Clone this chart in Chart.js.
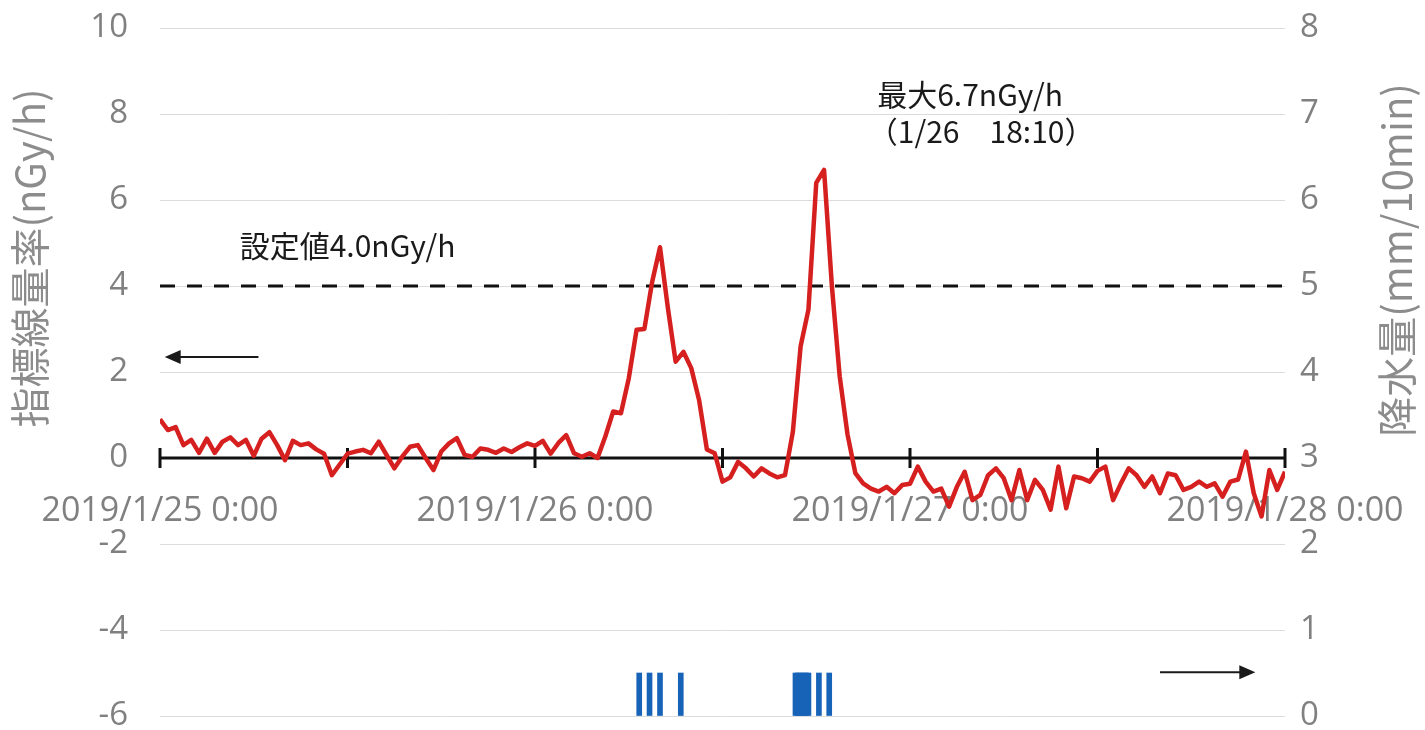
<!DOCTYPE html>
<html lang="ja">
<head>
<meta charset="utf-8">
<title>指標線量率と降水量</title>
<script src="https://cdn.jsdelivr.net/npm/chart.js@4/dist/chart.umd.min.js"></script>
<style>
  body { margin: 0; background: #fff; }
</style>
</head>
<body>
<canvas id="grafico" width="1425" height="730"></canvas>
<script>
// horas desde 2019/1/25 0:00, una muestra cada 30 min
const inicioHoras = 0
const pasoHoras = 0.5

const horasTicks = [0, 12, 24, 36, 48, 60, 72]
const etiquetasDia = ["2019/1/25 0:00", "2019/1/26 0:00", "2019/1/27 0:00", "2019/1/28 0:00"]

// 指標線量率 (nGy/h)
const tasaDosis = [
    0.9, 0.65, 0.72, 0.3, 0.42, 0.12, 0.45, 0.12, 0.38, 0.48, 0.3, 0.42, 0.05, 0.45, 0.6, 0.3, -0.05, 0.4, 0.3, 0.34, 0.2, 0.1, -0.4, -0.15, 0.1,
    0.15, 0.19, 0.11, 0.38, 0.07, -0.24, 0.03, 0.26, 0.3, 0.0, -0.28, 0.15, 0.34, 0.46, 0.07, 0.03, 0.22, 0.19, 0.12, 0.22, 0.14, 0.25, 0.34, 0.28,
    0.4, 0.1, 0.35, 0.53, 0.11, 0.03, 0.11, 0.0, 0.5, 1.08, 1.04, 1.85, 2.98, 3.0, 4.1, 4.9, 3.5, 2.24, 2.47, 2.09, 1.35, 0.2, 0.11, -0.55,
    -0.45, -0.09, -0.24, -0.43, -0.24, -0.36, -0.45, -0.4, 0.6, 2.6, 3.45, 6.4, 6.7, 4.0, 1.9, 0.55, -0.35, -0.59, -0.71, -0.78, -0.67, -0.82, -0.63, -0.6,
    -0.2, -0.55, -0.78, -0.71, -1.13, -0.67, -0.32, -0.98, -0.86, -0.4, -0.24, -0.47, -0.98, -0.28, -0.98, -0.51, -0.74, -1.2, -0.2, -1.17, -0.43, -0.47, -0.55, -0.3,
    -0.2, -0.98, -0.59, -0.24, -0.4, -0.67, -0.43, -0.82, -0.36, -0.4, -0.74, -0.67, -0.55, -0.67, -0.59, -0.9, -0.55, -0.5, 0.15, -0.82, -1.36, -0.28, -0.74, -0.32
]

// 降水量 (mm/10min)
const horasLluvia = [30.67, 31.33, 32.0, 33.33, 40.67, 40.83, 41.0, 41.17, 41.33, 41.5, 42.17, 42.83]
const lluvia = [0.5, 0.5, 0.5, 0.5, 0.5, 0.5, 0.5, 0.5, 0.5, 0.5, 0.5, 0.5]

const valorConsigna = 4.0
const ticksIzq = [-6, 10]
const ticksDer = [0, 8]

const puntosDosis = tasaDosis.map((v, i) => ({ x: inicioHoras + i * pasoHoras, y: v }))
const puntosLluvia = horasLluvia.map((h, i) => ({ x: h, y: lluvia[i] }))
const puntosConsigna = [{ x: 0, y: valorConsigna }, { x: 72, y: valorConsigna }]

function flecha(ctx, x1, y1, x2, y2) {
    const dir = x1 > x2 ? 1 : -1
    ctx.beginPath()
    ctx.moveTo(x1, y1)
    ctx.lineTo(x2 + dir * 12, y2)
    ctx.stroke()
    ctx.beginPath()
    ctx.moveTo(x2, y2)
    ctx.lineTo(x2 + dir * 16, y2 - 7)
    ctx.lineTo(x2 + dir * 16, y2 + 7)
    ctx.closePath()
    ctx.fill()
}

const extras = {
    id: "extras",
    beforeDatasetsDraw(chart) {
        const { ctx, scales: { x, y } } = chart
        const y0 = y.getPixelForValue(0)
        ctx.save()
        // eje horizontal en y = 0
        ctx.strokeStyle = "#111"
        ctx.lineWidth = 3
        ctx.beginPath()
        ctx.moveTo(x.getPixelForValue(0), y0)
        ctx.lineTo(x.getPixelForValue(72), y0)
        ctx.stroke()
        horasTicks.forEach(h => {
            const px = x.getPixelForValue(h)
            ctx.beginPath()
            ctx.moveTo(px, y0 - 10)
            ctx.lineTo(px, y0 + 10)
            ctx.stroke()
        })
        // etiquetas de fecha
        ctx.fillStyle = "#808080"
        ctx.font = "34px 'Open Sans'"
        ctx.textAlign = "center"
        ctx.textBaseline = "middle"
        etiquetasDia.forEach((txt, i) => {
            ctx.fillText(txt, x.getPixelForValue(i * 24), y0 + 53)
        })
        ctx.restore()
    },
    afterDraw(chart) {
        const { ctx, scales: { x, y, y1 } } = chart
        ctx.save()

        // títulos de los ejes
        ctx.fillStyle = "#8c8c8c"
        ctx.font = "40px 'Noto Sans CJK JP'"
        ctx.textAlign = "center"
        ctx.textBaseline = "middle"
        ctx.save()
        ctx.translate(30, 258)
        ctx.rotate(-Math.PI / 2)
        ctx.fillText("指標線量率(nGy/h)", 0, 0)
        ctx.restore()
        ctx.save()
        ctx.translate(1397, 260)
        ctx.rotate(-Math.PI / 2)
        ctx.fillText("降水量(mm/10min)", 0, 0)
        ctx.restore()

        // anotaciones
        ctx.fillStyle = "#1a1a1a"
        ctx.font = "30px 'Noto Sans CJK JP'"
        ctx.textAlign = "left"
        ctx.fillText("設定値4.0nGy/h", x.getPixelForValue(5.1), y.getPixelForValue(4.95))
        ctx.fillText("最大6.7nGy/h", x.getPixelForValue(45.9), y.getPixelForValue(8.44))
        ctx.fillText("（1/26　18:10）", x.getPixelForValue(45.3), y.getPixelForValue(7.6))

        // flechas
        ctx.strokeStyle = "#1a1a1a"
        ctx.fillStyle = "#1a1a1a"
        ctx.lineWidth = 2
        flecha(ctx, x.getPixelForValue(6.3), y.getPixelForValue(2.35), x.getPixelForValue(0.3), y.getPixelForValue(2.35))
        flecha(ctx, x.getPixelForValue(64.0), y1.getPixelForValue(0.51), x.getPixelForValue(70.1), y1.getPixelForValue(0.51))

        ctx.restore()
    }
}

const fuenteTicks = { family: "'Open Sans'", size: 33 }

new Chart(document.getElementById("grafico"), {
    data: {
        datasets: [
            {
                type: "line",
                label: "指標線量率",
                data: puntosDosis,
                borderColor: "#d61f1f",
                borderWidth: 4.5,
                borderJoinStyle: "round",
                pointRadius: 0,
                tension: 0,
                yAxisID: "y",
                order: 0
            },
            {
                type: "line",
                label: "設定値",
                data: puntosConsigna,
                borderColor: "#111",
                borderWidth: 3,
                borderDash: [15, 12],
                pointRadius: 0,
                yAxisID: "y",
                order: 1
            },
            {
                type: "bar",
                label: "降水量",
                data: puntosLluvia,
                backgroundColor: "#1763b8",
                barThickness: 5,
                yAxisID: "y1",
                order: 2
            }
        ]
    },
    options: {
        responsive: false,
        animation: false,
        devicePixelRatio: 1,
        layout: { padding: { top: 28, bottom: 14, left: 0, right: 0 } },
        plugins: {
            legend: { display: false },
            tooltip: { enabled: false }
        },
        scales: {
            x: {
                type: "linear",
                display: false,
                offset: false,
                min: 0,
                max: 72
            },
            y: {
                position: "left",
                min: ticksIzq[0],
                max: ticksIzq[1],
                grid: { color: "#dcdcdc", lineWidth: 1, drawTicks: false },
                border: { display: false },
                ticks: { stepSize: 2, padding: 32, color: "#808080", font: fuenteTicks },
                afterFit: s => { s.width = 160; s.paddingTop = 0; s.paddingBottom = 0 }
            },
            y1: {
                position: "right",
                min: ticksDer[0],
                max: ticksDer[1],
                grid: { drawOnChartArea: false, drawTicks: false },
                border: { display: false },
                ticks: { stepSize: 1, padding: 15, color: "#808080", font: fuenteTicks },
                afterFit: s => { s.width = 140; s.paddingTop = 0; s.paddingBottom = 0 }
            }
        }
    },
    plugins: [extras]
})
</script>
</body>
</html>
